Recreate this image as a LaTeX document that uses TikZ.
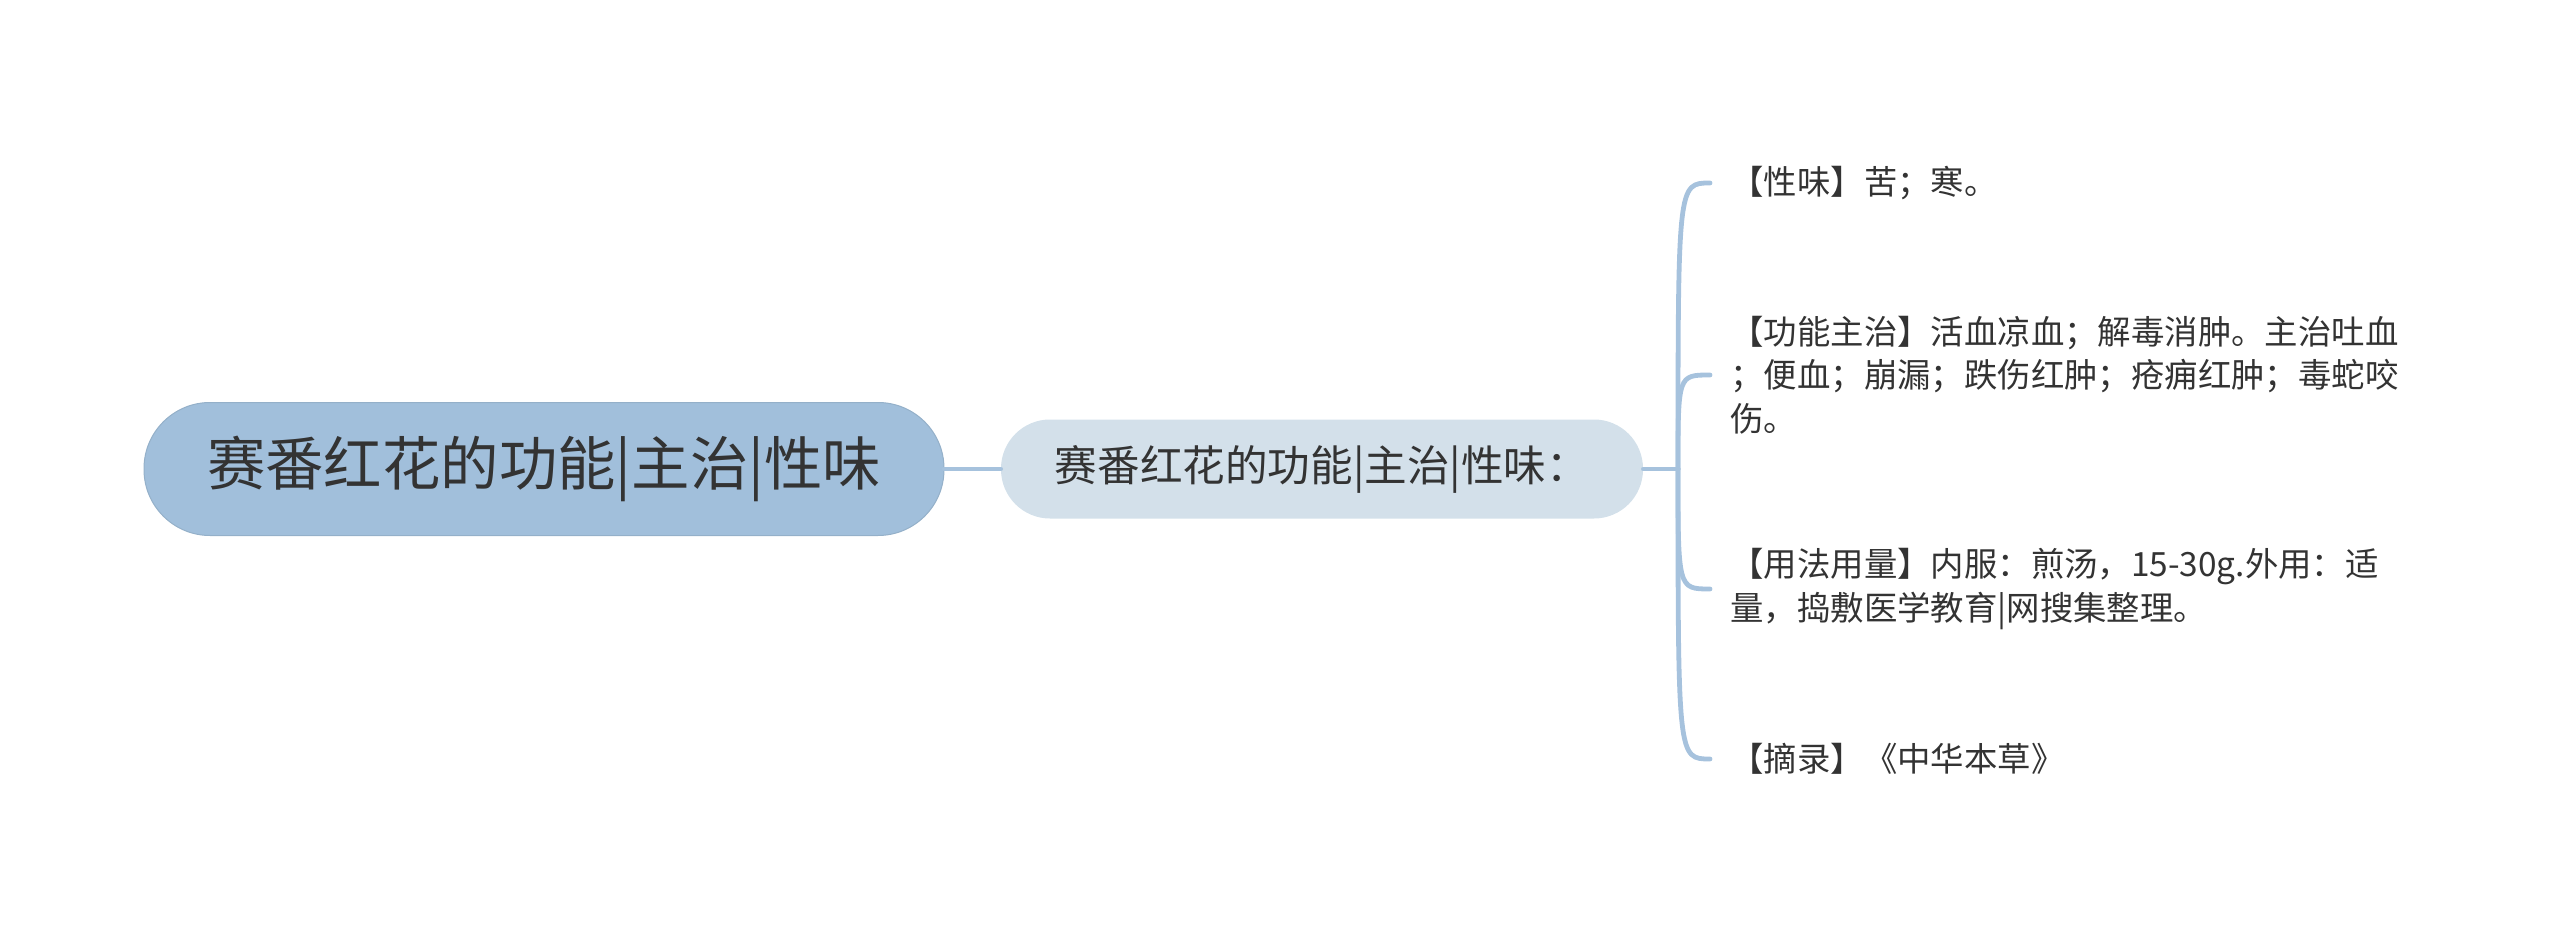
\documentclass[tikz,border=0pt]{standalone}
\usepackage{fontspec}
\setmainfont{Noto Sans CJK SC}
\usetikzlibrary{positioning}

\definecolor{rootblue}{HTML}{A1BFDB}
\definecolor{topicblue}{HTML}{D3E0EA}
\definecolor{linkblue}{HTML}{A6C2DD}
\definecolor{inkgray}{HTML}{333333}

\begin{document}
\begin{tikzpicture}[x=0.5pt,y=-0.5pt,
    rootbox/.style={rounded corners=33pt, fill=rootblue, draw=rootblue!92!black, line width=0.5pt,
        minimum width=400pt, minimum height=66.5pt, text=inkgray, font=\fontsize{29.2}{34}\selectfont},
    topicbox/.style={rounded corners=24.5pt, fill=topicblue, minimum width=321pt, minimum height=49.5pt,
        text=inkgray, font=\fontsize{21.3}{25}\selectfont},
    leaf/.style={anchor=west, inner sep=0pt, align=left, text=inkgray, font=\fontsize{16.7}{21.75}\selectfont},
    branch/.style={draw=linkblue, line width=2.4pt, line cap=round}]
    \useasboundingbox (0,0) rectangle (2560,941);

    % Draw main nodes
    \node[rootbox] (root) at (544,469) {赛番红花的功能|主治|性味};
    \node[topicbox] (topic) at (1322,469) {赛番红花的功能|主治|性味：};

    % Draw leaves
    \node[leaf] (xingwei) at (1730,183) {【性味】苦；寒。};
    \node[leaf] (gongneng) at (1730,375) {【功能主治】活血凉血；解毒消肿。主治吐血\\；便血；崩漏；跌伤红肿；疮痈红肿；毒蛇咬\\伤。};
    \node[leaf] (yongfa) at (1730,589) {【用法用量】内服：煎汤，15-30g.外用：适\\量，捣敷医学教育|网搜集整理。};
    \node[leaf] (zhailu) at (1730,759) {【摘录】《中华本草》};

    % Connectors
    \coordinate (jn) at (1678,469);
    \draw[branch] (root) -- (topic);
    \draw[branch] (topic) -- (jn);
    \foreach \leafname in {xingwei,gongneng,yongfa,zhailu}
        \draw[branch] (jn) .. controls (jn |- \leafname.west) .. ([xshift=-10pt]\leafname.west);
\end{tikzpicture}
\end{document}
